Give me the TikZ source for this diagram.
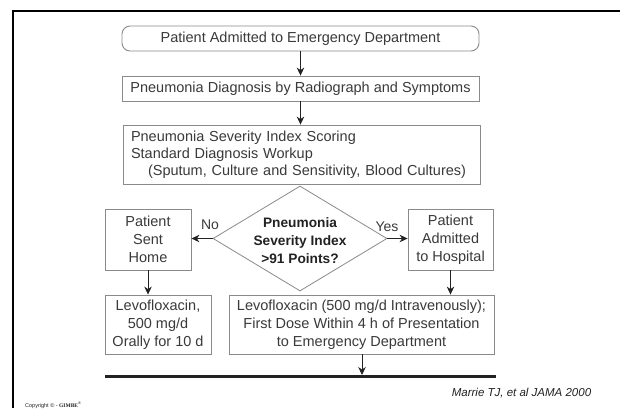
\documentclass[tikz,border=0pt]{standalone}
\usepackage{fontspec}
\setmainfont{Liberation Sans}
\usetikzlibrary{arrows.meta,shapes.geometric}
\definecolor{txt}{HTML}{3A3A3A}
\definecolor{edge}{HTML}{8A8A8A}
\definecolor{dark}{HTML}{222222}
\tikzset{
  box/.style={draw=edge, line width=0.9pt, rectangle, inner sep=0pt, align=center,
    text=txt, font=\fontsize{14.5}{18}\selectfont},
  lbl/.style={text=txt, inner sep=0pt, font=\fontsize{14}{16}\selectfont},
  arr/.style={draw=dark, line width=0.7pt, -{Stealth[length=8pt,width=7.5pt]}},
}
\begin{document}
\begin{tikzpicture}[x=1pt,y=-1pt]
\useasboundingbox (0,0) rectangle (620,408);
\fill[white] (0,0) rectangle (620,408);
\draw[line width=2.4pt, black] (13,408) -- (13,11) -- (620,11);

\node[box, rounded corners=8pt, minimum width=357, minimum height=25] (a) at (300.5,38.5) {Patient Admitted to Emergency Department};
\node[box, minimum width=357, minimum height=25] (b) at (300.5,88.5) {Pneumonia Diagnosis by Radiograph and Symptoms};
\node[box, minimum width=357, minimum height=59, text width=341, align=left, font=\fontsize{14.5}{17}\selectfont] (c) at (301.5,154.5) {Pneumonia Severity Index Scoring\\Standard Diagnosis Workup\\\hspace*{17pt}(Sputum, Culture and Sensitivity, Blood Cultures)};

\node[diamond, draw=edge, line width=0.8pt, minimum width=174, minimum height=105, inner sep=0pt] (d) at (300,238.5) {};
\node[align=center, inner sep=0pt, text=dark, font=\bfseries\fontsize{13.7}{18}\selectfont] (dt) at (300,241) {Pneumonia\\Severity Index\\>91 Points?};

\node[box, minimum width=86, minimum height=61] (sh) at (148,239.5) {Patient\\Sent\\Home};
\node[box, minimum width=85, minimum height=61] (ah) at (450.5,239.5) {Patient\\Admitted\\to Hospital};

\node[box, minimum width=106, minimum height=59] (lvl) at (158,324.5) {Levofloxacin,\\500 mg/d\\Orally for 10 d};
\node[box, minimum width=265, minimum height=59] (lvr) at (361.5,324.5) {Levofloxacin (500 mg/d Intravenously);\\First Dose Within 4 h of Presentation\\to Emergency Department};

\coordinate (bl) at (105,376.5);
\coordinate (br) at (496,376.5);
\draw[line width=3pt, draw=dark] (bl) -- (br);

\draw[arr] (a.south) -- (b.north);
\draw[arr] (b.south) -- (b.south |- c.north);
\draw[arr] (d.west) -- (sh.east |- d.west);
\draw[arr] (d.east) -- (ah.west |- d.east);
\draw[arr] (sh.south) -- (sh.south |- lvl.north);
\draw[arr] (ah.south) -- (ah.south |- lvr.north);
\coordinate (lineTop) at (362,375);
\draw[arr] (lvr.south -| lineTop) -- (lineTop);

\node[lbl] (no) at (210,225) {No};
\node[lbl] (yes) at (387,227) {Yes};

\node[inner sep=0pt, text=dark, font=\itshape\fontsize{11.5}{13}\selectfont] (ref) at (521.5,393.5) {Marrie TJ, et al JAMA 2000};
\node[anchor=base west, inner sep=0pt, text=dark, font=\fontsize{5.5}{6}\selectfont] (copy) at (25,407) {Copyright © - {\fontspec{Liberation Serif}\bfseries GIMBE}\textsuperscript{®}};
\end{tikzpicture}
\end{document}
